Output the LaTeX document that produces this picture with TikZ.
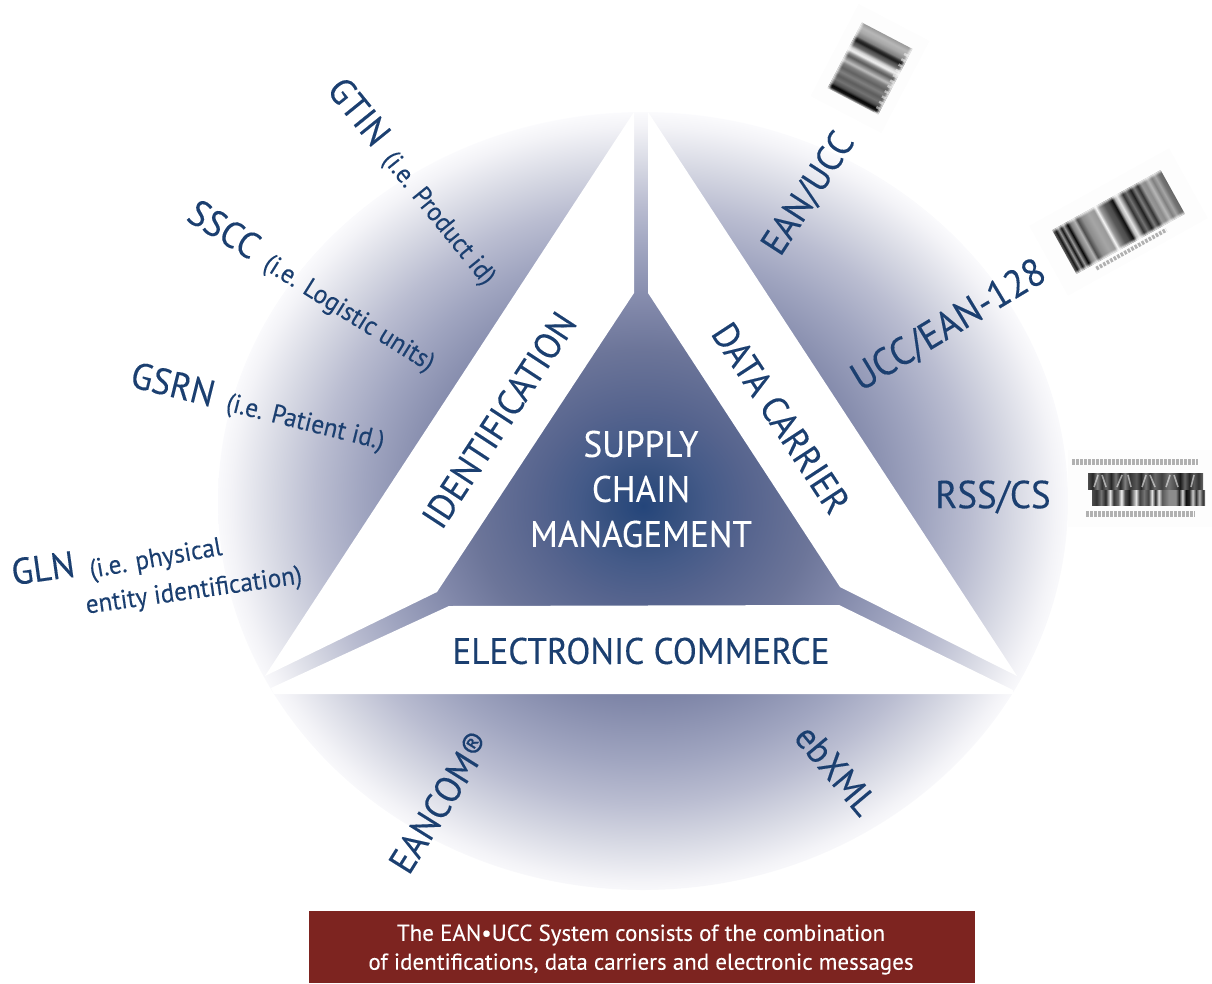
\documentclass[tikz,border=0pt]{standalone}
\usepackage{fontspec}
\setmainfont{PT Sans}[FakeStretch=0.95,FakeBold=0.2]
\newfontfamily\capfont{PT Sans}[FakeBold=0.1]
\definecolor{navy}{HTML}{1B3F70}
\definecolor{brick}{HTML}{7D2420}
\definecolor{sa}{HTML}{24457A}
\definecolor{sb}{HTML}{35507F}
\definecolor{sc}{HTML}{445A88}
\definecolor{sd}{HTML}{56648E}
\definecolor{se}{HTML}{6C7599}
\definecolor{sf}{HTML}{7F86A8}
\definecolor{sg}{HTML}{A0A5C0}
\definecolor{sh}{HTML}{BABDD1}
\definecolor{si}{HTML}{D6D8E3}
\definecolor{sj}{HTML}{F3F3F7}
\definecolor{sk}{HTML}{FBFBFD}
\pgfdeclareradialshading{discshade}{\pgfpoint{0bp}{-0.3bp}}{%
 color(0bp)=(sa);color(2bp)=(sb);color(3.75bp)=(sc);color(6.25bp)=(sd);color(10bp)=(se);color(12.5bp)=(sf);
 color(16.5bp)=(sg);color(19.25bp)=(sh);color(21.75bp)=(si);color(24.25bp)=(sj);color(25.2bp)=(sk);color(50bp)=(sk)}
\pgfdeclarehorizontalshading{barA}{100bp}{%
 gray(0bp)=(.7);gray(25bp)=(.6);gray(28bp)=(.72);gray(31bp)=(.66);gray(34.5bp)=(.5);gray(36bp)=(.2);gray(37.5bp)=(.1);gray(39bp)=(.3);
 gray(41bp)=(.42);gray(43bp)=(.82);gray(45bp)=(.95);gray(47bp)=(.55);gray(49bp)=(.35);gray(51bp)=(.55);gray(53bp)=(.75);gray(55bp)=(.5);
 gray(58bp)=(.38);gray(61bp)=(.5);gray(64bp)=(.36);gray(67bp)=(.45);gray(70bp)=(.3);gray(71.8bp)=(.02);gray(73.2bp)=(.1);gray(75bp)=(.8);gray(100bp)=(.8)}
\pgfdeclarehorizontalshading{barB}{100bp}{%
 gray(0bp)=(.4);gray(25bp)=(.4);gray(26.2bp)=(.08);gray(27.4bp)=(.6);gray(28.6bp)=(.08);gray(29.8bp)=(.6);gray(31.4bp)=(.02);
 gray(32.7bp)=(.5);gray(34.7bp)=(.7);gray(35.9bp)=(.3);gray(37.9bp)=(.55);gray(41bp)=(.65);gray(43.5bp)=(.6);gray(44.7bp)=(.97);
 gray(46bp)=(.6);gray(48.4bp)=(.35);gray(50bp)=(.3);gray(52bp)=(.05);gray(53.2bp)=(.7);gray(54.4bp)=(.9);gray(55.6bp)=(.6);
 gray(56.9bp)=(.2);gray(58.5bp)=(.45);gray(60.5bp)=(.12);gray(62bp)=(.5);gray(63.7bp)=(.2);gray(65.3bp)=(.6);gray(67bp)=(.55);
 gray(68.5bp)=(.72);gray(70.2bp)=(.5);gray(71.8bp)=(.65);gray(73.4bp)=(.45);gray(75bp)=(.4);gray(100bp)=(.4)}
\pgfdeclarehorizontalshading{barC}{100bp}{%
 gray(0bp)=(.3);gray(25bp)=(.3);gray(27bp)=(.2);gray(29bp)=(.45);gray(31bp)=(.15);gray(33bp)=(.9);gray(34.5bp)=(.2);gray(36.5bp)=(.4);
 gray(38bp)=(.95);gray(39.5bp)=(.3);gray(41.5bp)=(.1);gray(43bp)=(.5);gray(44.5bp)=(.9);gray(46bp)=(.25);gray(48bp)=(.45);gray(50bp)=(.25);
 gray(51.5bp)=(.9);gray(53bp)=(.15);gray(54.5bp)=(.9);gray(56bp)=(.35);gray(59bp)=(.55);gray(62bp)=(.55);gray(63.5bp)=(.15);gray(65bp)=(.85);
 gray(66.5bp)=(.05);gray(68bp)=(.15);gray(69.5bp)=(.8);gray(71bp)=(.2);gray(72.5bp)=(.7);gray(74bp)=(.2);gray(75bp)=(.5);gray(100bp)=(.5)}
\pgfdeclarehorizontalshading{barD}{100bp}{%
 gray(0bp)=(.3);gray(25bp)=(.3);gray(27bp)=(.15);gray(29bp)=(.5);gray(31bp)=(.2);gray(33bp)=(.4);gray(35bp)=(.15);gray(37bp)=(.45);
 gray(39bp)=(.15);gray(41bp)=(.5);gray(43bp)=(.2);gray(46bp)=(.35);gray(48bp)=(.15);gray(50bp)=(.45);gray(52bp)=(.2);gray(54bp)=(.4);
 gray(57bp)=(.25);gray(60bp)=(.45);gray(63bp)=(.3);gray(65bp)=(.1);gray(67bp)=(.4);gray(69bp)=(.15);gray(71bp)=(.35);gray(73bp)=(.2);gray(75bp)=(.4);gray(100bp)=(.4)}
\tikzset{
 big/.style={text=navy,font=\fontsize{37}{37}\selectfont,inner sep=0pt},
 tag/.style={text=navy,font=\fontsize{37}{37}\selectfont,inner sep=0pt},
 blurtext/.style={line width=6pt,black!38,dash pattern=on 2.6pt off 1.4pt,opacity=.8},
 halo/.style={fill=black!0.8},
 capt/.style={text=white,font=\capfont\fontsize{23}{23}\selectfont,inner sep=0pt},
}
\newcommand{\lesser}[1]{{\fontsize{26.5}{26.5}\selectfont #1}}
\newcommand{\softends}[2]{%
 \foreach \k/\o in {0/.7,1/.4,2/.15}{%
  \fill[white,opacity=\o] (-#1,#2-\k-1) rectangle (#1,#2-\k);
  \fill[white,opacity=\o] (-#1,-#2+\k+1) rectangle (#1,-#2+\k);
 }}
\begin{document}
\begin{tikzpicture}[x=1pt,y=-1pt]
\useasboundingbox (0,0) rectangle (1212,983);
% disc
\shade[shading=discshade] (643,501) ellipse [x radius=425,y radius=389];
% white sectors
\fill[white] (634,112) -- (265,676) -- (437,592) -- (634,293) -- cycle;
\fill[white] (648,112) -- (1017,676) -- (840,587) -- (648,293) -- cycle;
\fill[white] (271,688) -- (449,606) -- (839,605) -- (1013,690) -- (1013,694) -- (274,694) -- cycle;
% barcodes
\begin{scope}[transform canvas={shift={(870,68.5)},rotate=-117.6}]
 \fill[halo] (-52,-40) rectangle (52,40);
 \shade[shading=barA] (-37,-28.5) rectangle (37,28.5);
 \softends{37}{28.5}
 \draw[line width=4pt,white,dash pattern=on 2.5pt off 3.5pt,opacity=.5] (-30,-25.5) -- (37,-25.5);
\end{scope}
\begin{scope}[transform canvas={shift={(1118.5,222)},rotate=29}]
 \fill[halo] (-80,-40) rectangle (80,40);
 \shade[shading=barB] (-62,-25) rectangle (62,25);
 \softends{62}{25}
 \draw[blurtext,line width=4pt] (-42,30) -- (38,30);
\end{scope}
\fill[halo] (1068,450) rectangle (1212,527);
\draw[blurtext] (1072,462) -- (1198,462);
\shade[shading=barD] (1088,473) rectangle (1203,489);
\foreach \u/\v in {1094/4,1106/-4,1117/5,1131/-3,1142/4,1155/-5,1166/4,1178/-4,1191/3}
 \draw[white,line width=1.6pt,opacity=.55] (\u,487) -- (\u+\v,475);
\shade[shading=barC] (1092,490) rectangle (1205,505);
\draw[blurtext] (1086,514) -- (1195,514);
% labels
\node[big,rotate=-51] (gtin) at (413,182) {GTIN\hspace{5pt} \lesser{(i.e. Product id)}};
\node[big,rotate=-32] (sscc) at (312,287) {SSCC\hspace{5pt} \lesser{(i.e. Logistic units)}};
\node[big,rotate=-14] (gsrn) at (258,408) {GSRN\hspace{5pt} \lesser{(i.e. Patient id.)}};
\node[big,rotate=8] (gln) at (43,568) {GLN};
\node[text=navy,inner sep=0pt,rotate=10] (gln1) at (156,560) {\lesser{(i.e. physical}};
\node[text=navy,inner sep=0pt,rotate=8] (gln2) at (194,592) {\lesser{entity identification)}};
\node[big,rotate=57] (eanucc) at (809,194) {EAN/UCC};
\node[big,rotate=31,font=\fontsize{39}{39}\selectfont] (ucc128) at (949,326) {UCC/EAN-128};
\node[big,font=\fontsize{39}{39}\selectfont] (rss) at (993,497) {RSS/CS};
\node[big,rotate=-50] (ebxml) at (836,770) {ebXML};
\node[big,rotate=58] (eancom) at (440,802) {EANCOM®};
\node[tag,rotate=56.8] (ident) at (499,420) {IDENTIFICATION};
\node[tag,rotate=-56.8] (carrier) at (781,418) {DATA CARRIER};
\node[tag] (ecomm) at (641,651) {ELECTRONIC COMMERCE};
\node[tag,text=white] (s1) at (641,444) {SUPPLY};
\node[tag,text=white] (s2) at (641,489) {CHAIN};
\node[tag,text=white] (s3) at (641,534) {MANAGEMENT};
% caption
\fill[brick] (309,911) rectangle (975,983);
\node[capt] (c1) at (641,935) {The EAN•UCC System consists of the combination};
\node[capt] (c2) at (641,964) {of identifications, data carriers and electronic messages};
\end{tikzpicture}
\end{document}
